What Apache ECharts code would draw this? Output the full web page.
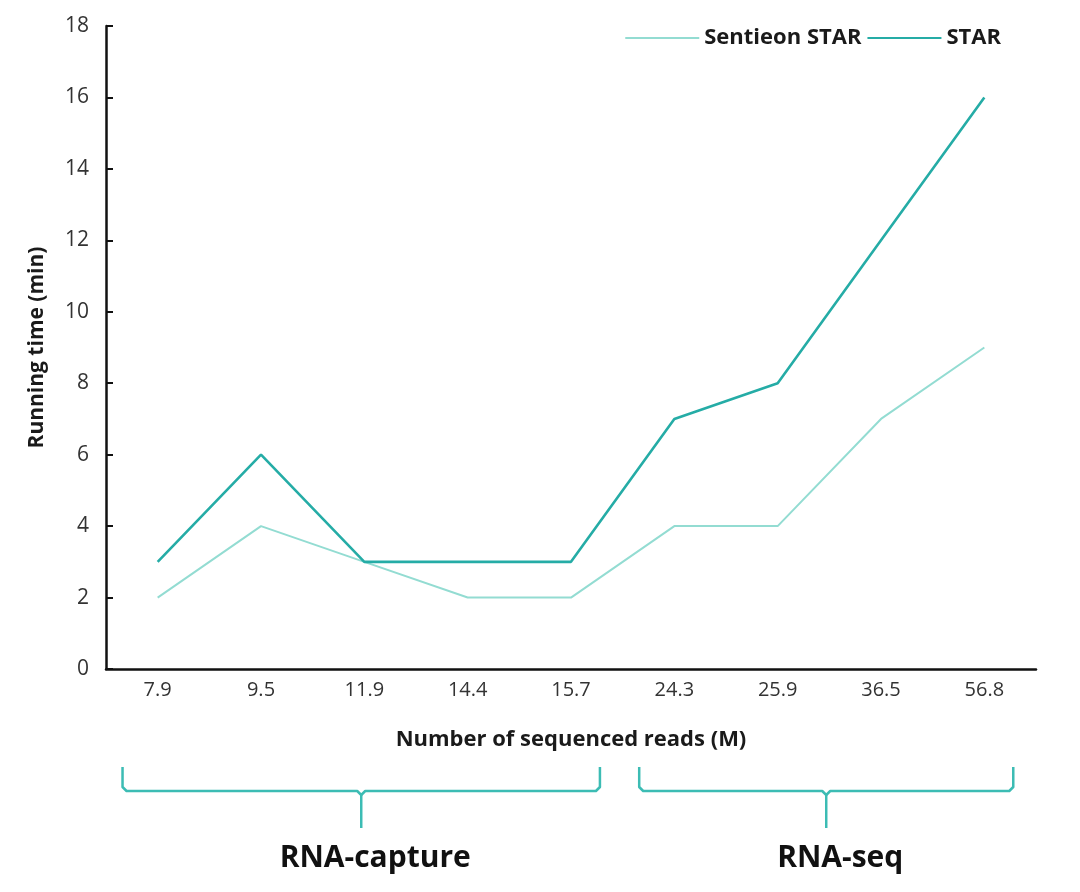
<!DOCTYPE html>
<html><head><meta charset="utf-8">
<script src="https://cdn.jsdelivr.net/npm/echarts@6/dist/echarts.min.js"></script>
<style>html,body{margin:0;padding:0;background:#fff}#c{width:1080px;height:892px}</style>
</head><body><div id="c"></div>
<script>
const categories = ['7.9','9.5','11.9','14.4','15.7','24.3','25.9','36.5','56.8'];
const sentieonStar = [2,4,3,2,2,4,4,7,9];
const star = [3,6,3,3,3,7,8,12,16];
const groups = [
  {name:'RNA-capture', from:0, to:4},
  {name:'RNA-seq', from:5, to:8}
];
(function(){
const FONT = '"Open Sans", "Noto Sans", sans-serif';
const chart = echarts.init(document.getElementById('c'));
chart.setOption({
  animation:false,
  grid:{left:106, right:44, top:26, bottom:223},
  legend:{
    top:22, right:74, itemWidth:74, itemHeight:14, itemGap:6,
    icon:'path://M0,6 L74,6 L74,8 L0,8 Z',
    textStyle:{fontFamily:FONT, fontSize:22, fontWeight:'bold', color:'#1a1a1a'},
    data:['Sentieon STAR','STAR']
  },
  xAxis:{
    type:'category', data:categories, boundaryGap:true,
    name:'Number of sequenced reads (M)', nameLocation:'middle', nameGap:60,
    nameTextStyle:{fontFamily:FONT, fontSize:22, fontWeight:'bold', color:'#1a1a1a'},
    axisLine:{lineStyle:{color:'#111', width:2.5}},
    axisTick:{show:false},
    axisLabel:{fontFamily:FONT, fontSize:20, color:'#333', margin:11}
  },
  yAxis:{
    type:'value', min:0, max:18, interval:2,
    name:'Running time (min)', nameLocation:'middle', nameGap:58,
    nameTextStyle:{fontFamily:FONT, fontSize:21, fontWeight:'bold', color:'#1a1a1a'},
    axisLine:{show:true, lineStyle:{color:'#111', width:2.5}},
    axisTick:{show:true, inside:true, length:7, lineStyle:{color:'#111', width:2}},
    splitLine:{show:false},
    axisLabel:{fontFamily:FONT, fontSize:21, color:'#333', margin:17}
  },
  series:[
    {name:'Sentieon STAR', type:'line', data:sentieonStar, symbol:'none',
     lineStyle:{color:'#93dcd2', width:2}, itemStyle:{color:'#93dcd2'}},
    {name:'STAR', type:'line', data:star, symbol:'none',
     lineStyle:{color:'#25aca6', width:2.6}, itemStyle:{color:'#25aca6'}}
  ]
});
const step = chart.convertToPixel({xAxisIndex:0}, categories[1]) - chart.convertToPixel({xAxisIndex:0}, categories[0]);
const braceColor = '#3cbcb4';
const els = [];
const yTop = 767, yMid = 791, yTip = 828;
groups.forEach((g) => {
  const x0 = chart.convertToPixel({xAxisIndex:0}, categories[g.from]) - step*0.34;
  const x1 = chart.convertToPixel({xAxisIndex:0}, categories[g.to]) + step*0.28;
  const xc = (x0 + x1) / 2;
  const r = 4;
  els.push({type:'polyline', shape:{points:[[x0,yTop],[x0,yMid-r],[x0+r,yMid],[xc-r,yMid],[xc,yMid+r],[xc+r,yMid],[x1-r,yMid],[x1,yMid-r],[x1,yTop]]},
    style:{stroke:braceColor, lineWidth:2.5, fill:null, lineJoin:'round'}});
  els.push({type:'line', shape:{x1:xc, y1:yMid+r, x2:xc, y2:yTip}, style:{stroke:braceColor, lineWidth:2.5}});
  els.push({type:'text', x:xc + 14, y:858, style:{text:g.name, fill:'#111', font:'bold 30px ' + FONT, textAlign:'center', textVerticalAlign:'middle'}});
});
chart.setOption({graphic:els});
})();
</script></body></html>
